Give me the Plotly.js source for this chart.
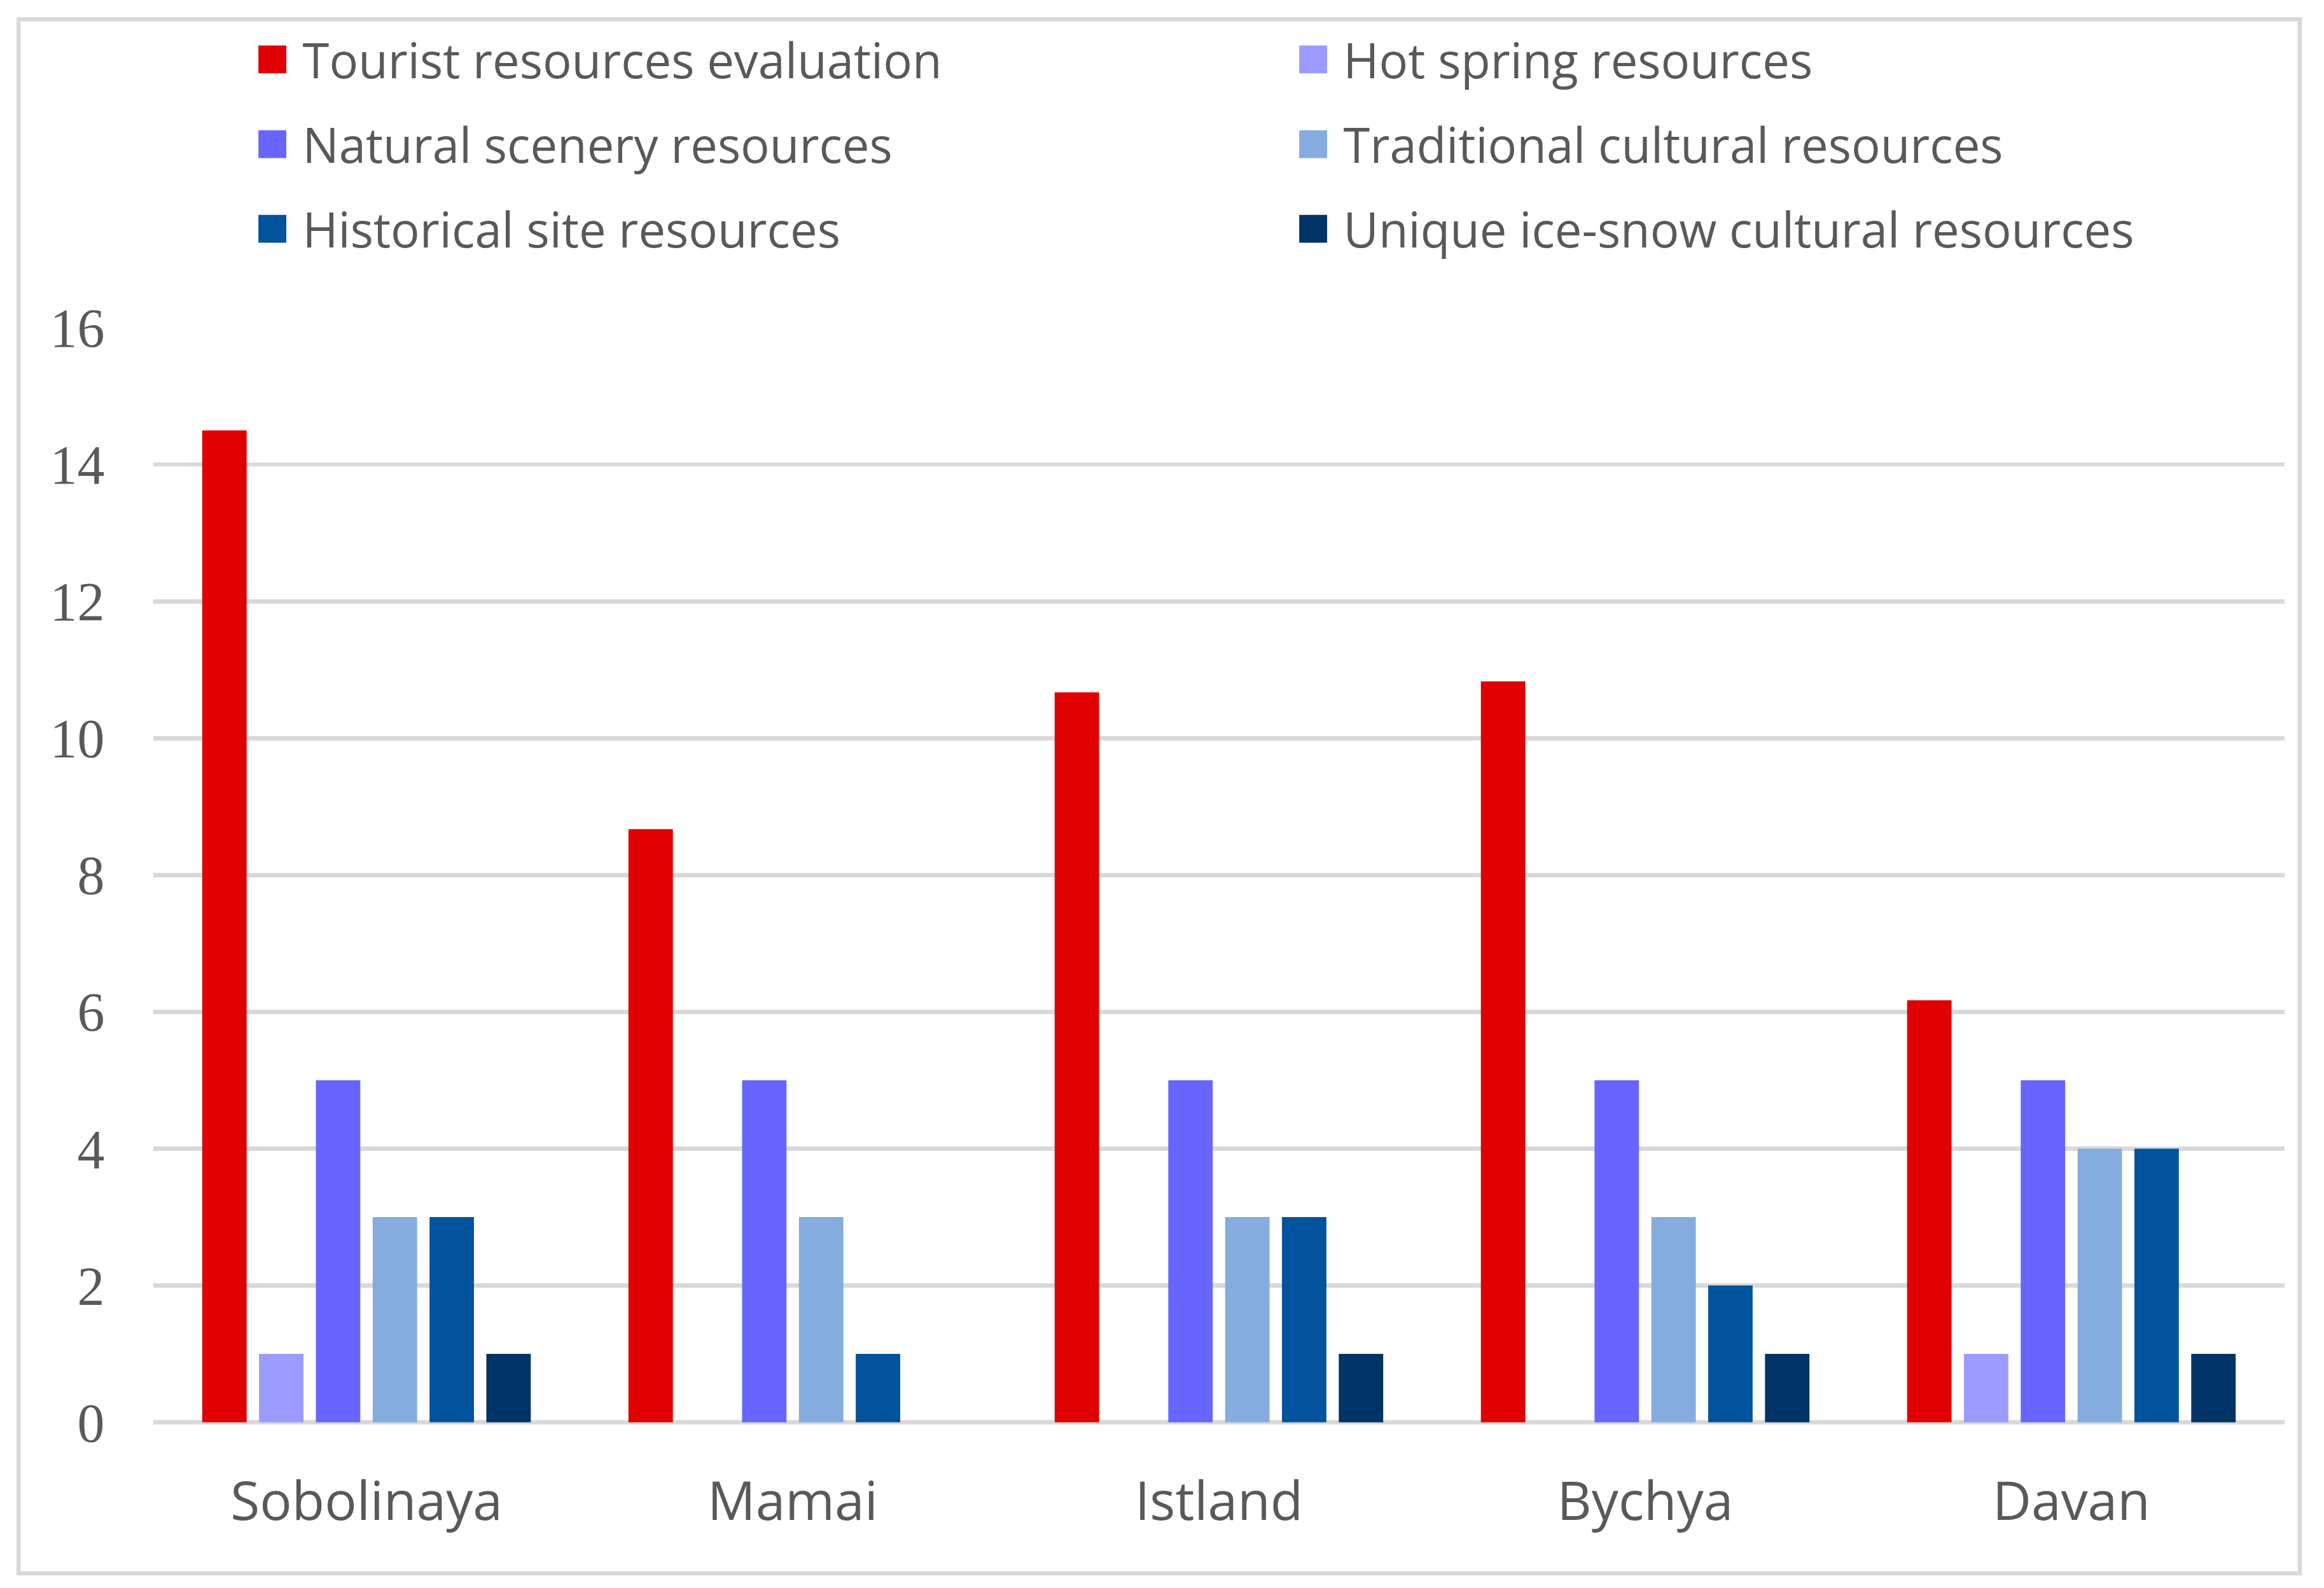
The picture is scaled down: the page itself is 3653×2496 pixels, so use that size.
<!DOCTYPE html>
<html>
<head>
<meta charset="utf-8">
<script src="https://cdn.plot.ly/plotly-3.0.1.min.js"></script>
<style>
html,body{margin:0;padding:0;background:#fff;overflow:hidden;width:3653px;height:2496px}
#wrap{transform:scale(3.653);transform-origin:0 0;width:1000px;height:683px}
</style>
</head>
<body>
<div id="wrap"><div id="chart" style="width:1000px;height:683px"></div></div>
<script>
// ---- data ----
const categories = ['Sobolinaya', 'Mamai', 'Istland', 'Bychya', 'Davan'];
const seriesNames = [
  'Tourist resources evaluation',
  'Hot spring resources',
  'Natural scenery resources',
  'Traditional cultural resources',
  'Historical site resources',
  'Unique ice-snow cultural resources'
];
const touristEval   = [14.5, 8.67, 10.67, 10.83, 6.17];
const hotSpring     = [1, 0, 0, 0, 1];
const naturalScen   = [5, 5, 5, 5, 5];
const traditional   = [3, 3, 3, 3, 4];
const historical    = [3, 1, 3, 2, 4];
const iceSnow       = [1, 0, 1, 1, 1];
const yTickValues   = [0, 2, 4, 6, 8, 10, 12, 14, 16];

// ---- styles ----
const colors = ['#E00000', '#9B9BFF', '#6666FF', '#85ACDE', '#00539C', '#003366'];
const legendIds = ['legend', 'legend2', 'legend', 'legend2', 'legend', 'legend2'];
const values = [touristEval, hotSpring, naturalScen, traditional, historical, iceSnow];

const W = 1000, H = 683;
const M = {l: 65.7, r: 17.2, t: 141.3, b: 71.2, autoexpand: false};
const pw = W - M.l - M.r, ph = H - M.t - M.b;
const px2x = p => (p - M.l) / pw;
const px2y = p => 1 - (p - M.t) / ph;

const traces = values.map((v, i) => ({
  type: 'bar',
  name: seriesNames[i],
  x: categories,
  y: v,
  marker: {color: colors[i], line: {width: 0}},
  legend: legendIds[i],
  legendgroup: 'g' + i,
  hoverinfo: 'skip'
}));

const legendFont = {family: 'Open Sans, sans-serif', size: 20.8, color: '#595959'};
function mkLegend(xl) {
  return {
    orientation: 'v',
    x: px2x(xl), xanchor: 'left',
    y: px2y(6.0), yanchor: 'top',
    font: legendFont,
    bgcolor: 'rgba(0,0,0,0)',
    borderwidth: 0,
    traceorder: 'grouped',
    tracegroupgap: 6.4,
    indentation: -7.7
  };
}

const layout = {
  width: W, height: H,
  margin: M,
  paper_bgcolor: '#ffffff',
  plot_bgcolor: '#ffffff',
  barmode: 'group',
  bargap: 0.2,
  bargroupgap: 0.218,
  showlegend: true,
  legend: mkLegend(97.6),
  legend2: mkLegend(545.5),
  xaxis: {
    type: 'category',
    showgrid: false,
    showline: false,
    ticks: '',
    tickfont: {family: 'Open Sans, sans-serif', size: 23, color: '#595959'},
    ticklabelstandoff: 18
  },
  yaxis: {
    range: [0, 16],
    tickvals: yTickValues,
    ticktext: yTickValues.map(String),
    showgrid: true,
    gridcolor: '#D9D9D9',
    gridwidth: 1.8,
    zeroline: true,
    zerolinecolor: '#D9D9D9',
    zerolinewidth: 1.8,
    showline: false,
    ticks: '',
    tickfont: {family: 'Liberation Serif, Times New Roman, serif', size: 23.5, color: '#595959'},
    ticklabelstandoff: 20
  },
  shapes: [{
    type: 'rect', xref: 'paper', yref: 'paper',
    x0: px2x(7.67), x1: px2x(989.4),
    y0: px2y(676.7), y1: px2y(8.76),
    line: {color: '#D9D9D9', width: 1.8},
    fillcolor: 'rgba(0,0,0,0)',
    layer: 'below'
  }],
  hovermode: false
};

Plotly.newPlot('chart', traces, layout, {staticPlot: true, responsive: false, displayModeBar: false})
  .then(function (gd) {
    // bring the legend swatches a little closer to their labels, as in the reference
    let pts = gd.querySelectorAll('g.legendpoints');
    if (!pts.length) pts = gd.querySelectorAll('path.legendbar');
    pts.forEach(function (el) {
      const t = el.getAttribute('transform') || '';
      el.setAttribute('transform', t + ' translate(7,0)');
    });
  });
</script>
</body>
</html>
